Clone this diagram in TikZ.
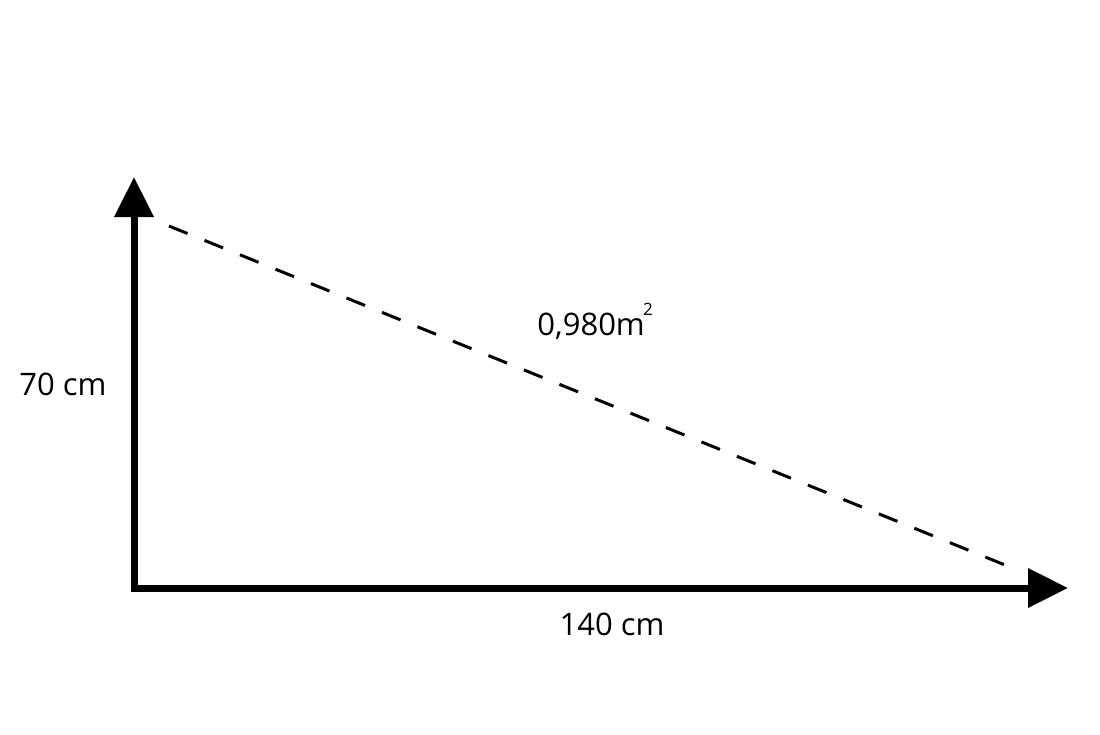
\documentclass[tikz,border=0pt]{standalone}
\usepackage{fontspec}
\setmainfont{Open Sans}
\usetikzlibrary{arrows.meta}
\begin{document}
\begin{tikzpicture}[x=1pt,y=-1pt,
  axis/.style={line width=7pt,-{Triangle[length=40pt,width=38pt]}},
  hyp/.style={line width=3pt,dash pattern=on 20pt off 18.3pt},
  lbl/.style={font=\fontsize{31}{37}\selectfont,inner sep=0pt}]
\useasboundingbox (0,0) rectangle (1100,734);
\coordinate (O) at (134,588);
\coordinate (Ytip) at (134,177);
\coordinate (Xtip) at (1068,588);
\coordinate (H1) at (169,226);
\coordinate (H2) at (1005,565);
\draw[axis] ([yshift=3.5pt]O) -- (Ytip);
\draw[axis] ([xshift=-3.5pt]O) -- (Xtip);
\draw[hyp] (H1) -- (H2);
\node[lbl] (ylab) at (63,384) {70 cm};
\node[lbl] (xlab) at (612,624) {140 cm};
\node[lbl,anchor=east] (area) at (645,326) {0,980m};
\node[font=\fontsize{17}{20}\selectfont,inner sep=0pt,anchor=west] (sq) at (643,309) {2};
\end{tikzpicture}
\end{document}
